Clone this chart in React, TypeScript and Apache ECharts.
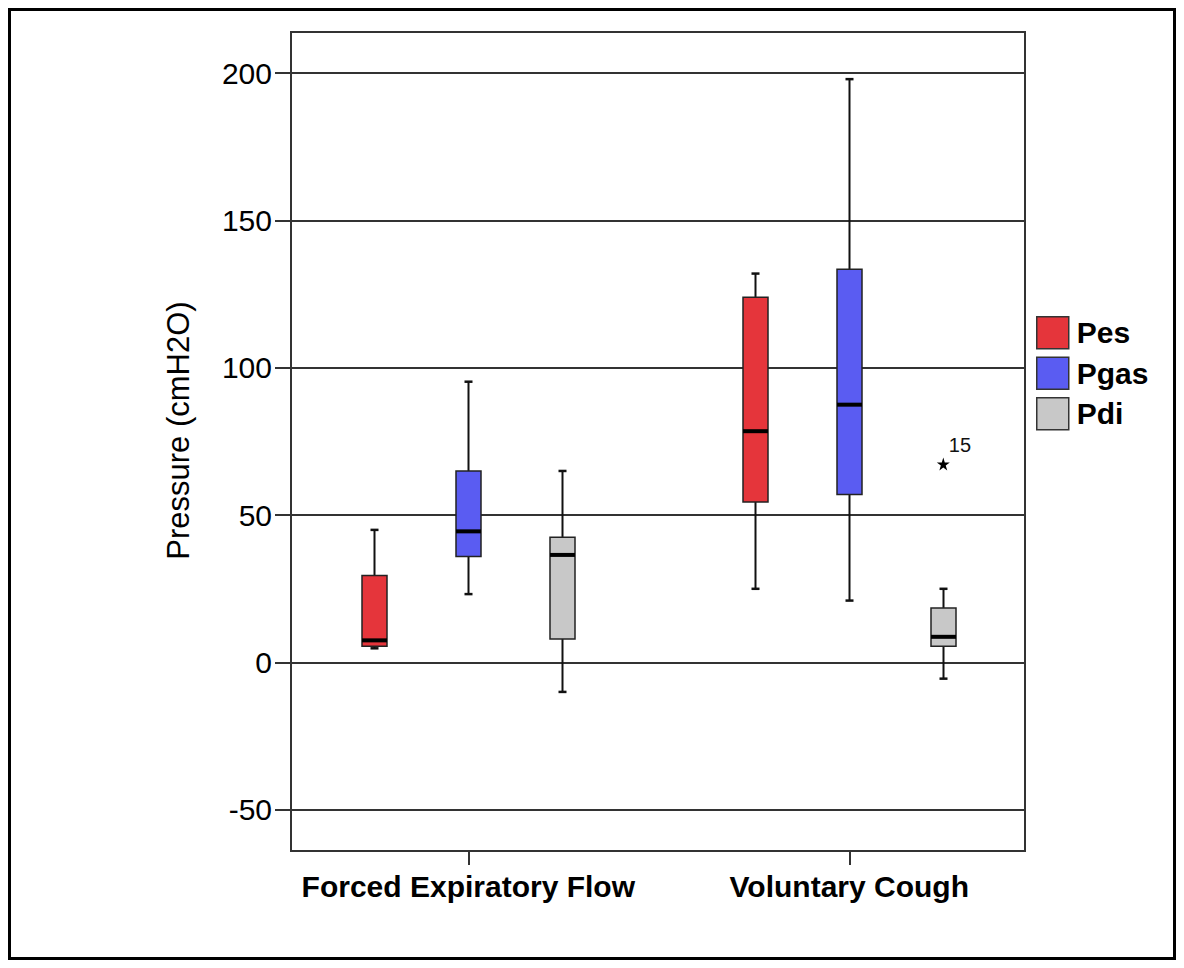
import React, { useEffect, useRef } from "react";
import * as echarts from "echarts";

// ---- Data ----
const categories = ["Forced Expiratory Flow", "Voluntary Cough"];
const seriesNames = ["Pes", "Pgas", "Pdi"];
// [min, Q1, median, Q3, max] per category
const pesStats = [
  [4.8, 5.5, 7.5, 29.5, 45],
  [25, 54.5, 78.5, 124, 132],
];
const pgasStats = [
  [23.2, 36, 44.5, 65, 95.3],
  [21, 57, 87.5, 133.5, 198],
];
const pdiStats = [
  [-10, 8, 36.5, 42.5, 65],
  [-5.5, 5.5, 8.7, 18.5, 25],
];
// extreme outliers (Pdi) : [categoryIndex, value], with case ids
const pdiOutliers = [[1, 67.4]];
const pdiOutlierIds = ["15"];
const yTickValues = [-50, 0, 50, 100, 150, 200];
const yMin = -64;
const yMax = 214;

const colors = ["#e5353b", "#5a5cf2", "#c8c8c8"];
const FONT = "'Liberation Sans', Arial, sans-serif";
const OFFSET = 94;

function makeRender(offset: number, color: string) {
  return (params: any, api: any) => {
    const x = api.value(0);
    const lo = api.coord([x, api.value(1)]);
    const q1 = api.coord([x, api.value(2)]);
    const md = api.coord([x, api.value(3)]);
    const q3 = api.coord([x, api.value(4)]);
    const hi = api.coord([x, api.value(5)]);
    const cx = Math.round(lo[0] + offset) + 0.5;
    const hw = 12.5;
    const cap = 4;
    const ws = { stroke: "#111", lineWidth: 2 };
    return {
      type: "group",
      children: [
        { type: "line", shape: { x1: cx, y1: hi[1], x2: cx, y2: q3[1] }, style: ws },
        { type: "line", shape: { x1: cx, y1: q1[1], x2: cx, y2: lo[1] }, style: ws },
        { type: "line", shape: { x1: cx - cap, y1: hi[1], x2: cx + cap, y2: hi[1] }, style: { stroke: "#111", lineWidth: 2.5 } },
        { type: "line", shape: { x1: cx - cap, y1: lo[1], x2: cx + cap, y2: lo[1] }, style: { stroke: "#111", lineWidth: 2.5 } },
        {
          type: "rect",
          shape: { x: cx - hw, y: q3[1], width: hw * 2, height: q1[1] - q3[1] },
          style: { fill: color, stroke: "#222", lineWidth: 1.5 },
        },
        { type: "line", shape: { x1: cx - hw, y1: md[1], x2: cx + hw, y2: md[1] }, style: { stroke: "#000", lineWidth: 4 } },
      ],
    };
  };
}

const STAR = "path://M50,0 L61,35 L98,35 L68,57 L79,91 L50,70 L21,91 L32,57 L2,35 L39,35 Z";

export default function App() {
  const ref = useRef<HTMLDivElement>(null);
  useEffect(() => {
    if (!ref.current) return;
    const chart = echarts.init(ref.current, undefined, { renderer: "svg" });
    const allStats = [pesStats, pgasStats, pdiStats];
    const offsets = [-OFFSET, 0, OFFSET];
    const series: any[] = allStats.map((st, si) => ({
      name: seriesNames[si],
      type: "custom",
      xAxisIndex: 1,
      yAxisIndex: 1,
      itemStyle: { color: colors[si] },
      encode: { x: 0, y: [1, 2, 3, 4, 5] },
      data: st.map((v, i) => [i, ...v]),
      renderItem: makeRender(offsets[si], colors[si]),
    }));
    series.push({
      name: "Pdi outliers",
      type: "scatter",
      xAxisIndex: 1,
      yAxisIndex: 1,
      symbol: STAR,
      symbolSize: 13,
      symbolOffset: [OFFSET, 0],
      itemStyle: { color: "#000", opacity: 1 },
      data: pdiOutliers,
      label: {
        show: true,
        position: [12, -22],
        formatter: (p: any) => pdiOutlierIds[p.dataIndex],
        fontFamily: FONT,
        fontSize: 20,
        color: "#111",
      },
    });
    chart.setOption({
      animation: false,
      backgroundColor: "#fff",
      textStyle: { fontFamily: FONT },
      grid: [
        { left: 280, top: 21, width: 734, height: 819, show: true, borderColor: "#333", borderWidth: 2, backgroundColor: "transparent" },
        { left: 266.8, top: 21, width: 762, height: 819 },
      ],
      xAxis: [
        { type: "category", gridIndex: 0, data: categories, show: false },
        {
          type: "category",
          gridIndex: 1,
          position: "bottom",
          data: categories,
          axisLine: { show: true, onZero: false, lineStyle: { color: "transparent" } },
          axisTick: { show: true, alignWithLabel: true, length: 14, lineStyle: { color: "#333", width: 2 } },
          axisLabel: { interval: 0, fontFamily: FONT, fontSize: 30, fontWeight: "bold", color: "#000", margin: 20 },
        },
      ],
      yAxis: [
        {
          type: "value",
          gridIndex: 0,
          min: yMin,
          max: yMax,
          name: "Pressure (cmH2O)",
          nameLocation: "middle",
          nameGap: 97,
          nameTextStyle: { fontFamily: FONT, fontSize: 31, color: "#000", padding: [0, 0, 0, 22] },
          axisLine: { show: false },
          axisTick: { show: true, length: 16, customValues: yTickValues, lineStyle: { color: "#333", width: 2 } },
          axisLabel: { customValues: yTickValues, fontFamily: FONT, fontSize: 30, color: "#000", margin: 19 },
          splitLine: { show: true, lineStyle: { color: "#333", width: 2 } },
        },
        { type: "value", gridIndex: 1, min: yMin, max: yMax, show: false, splitLine: { show: false } },
      ],
      legend: {
        orient: "vertical",
        left: 1025,
        top: 305,
        padding: 0,
        itemWidth: 32,
        itemHeight: 32,
        itemGap: 7,
        icon: "rect",
        textStyle: { fontFamily: FONT, fontSize: 30, fontWeight: "bold", color: "#000", lineHeight: 32, padding: [0, 0, 0, 3] },
        data: seriesNames.map((n, i) => ({
          name: n,
          icon: "rect",
          itemStyle: { color: colors[i], borderColor: "#333", borderWidth: 1.5 },
        })),
      },
      series,
    });
    return () => chart.dispose();
  }, []);
  return (
    <div style={{ width: 1168, height: 952, border: "3px solid #000", boxSizing: "border-box", background: "#fff" }}>
      <div ref={ref} style={{ width: 1162, height: 946 }} />
    </div>
  );
}
